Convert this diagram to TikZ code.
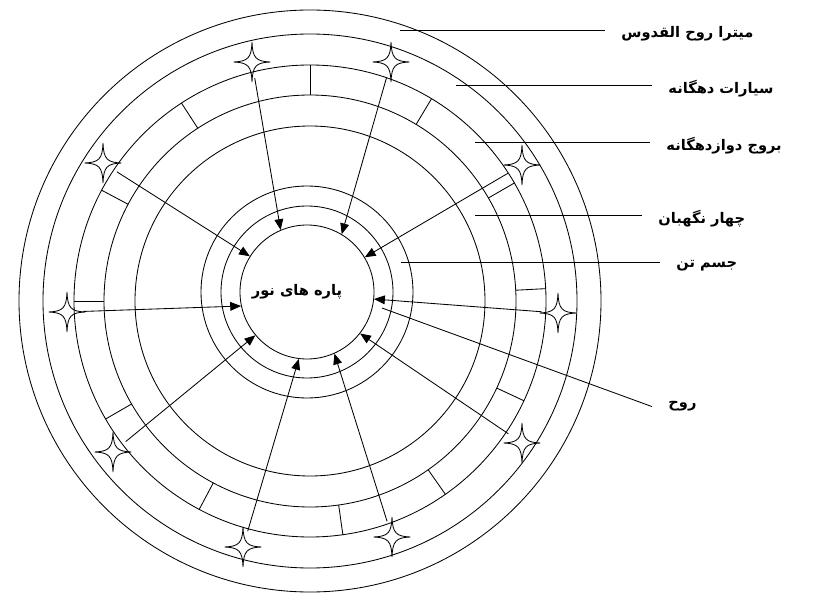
\documentclass[tikz,border=0pt]{standalone}
\usepackage{fontspec}
\newfontfamily\arabicfont[Script=Arabic]{DejaVu Sans}
\TeXXeTstate=1
\usetikzlibrary{arrows.meta}

\tikzset{
	sparkle/.pic={
		\draw (0,0.5) .. controls (0.015,0.1) and (0.1,0.015) .. (0.46,0)
			.. controls (0.1,-0.015) and (0.015,-0.1) .. (0,-0.5)
			.. controls (-0.015,-0.1) and (-0.1,-0.015) .. (-0.46,0)
			.. controls (-0.1,0.015) and (-0.015,0.1) .. cycle;
	}
}

\begin{document}
\begin{tikzpicture}[every node/.style={font=\arabicfont\bfseries\fontsize{10.4}{12}\selectfont},
	>={Triangle[length=2.7mm,width=2.2mm]}, line width=0.6pt,
	planet/.style={circle, minimum size=0.8cm, inner sep=0pt},
	ringname/.style={anchor=west, inner xsep=0.4cm, inner ysep=0pt, yshift=-0.09cm}]
	\useasboundingbox (0,0) rectangle (20.35,14.975);
	% outer rings
	\coordinate (o) at (7.75,7.45);
	\draw (o) circle (4.375) (o) circle (5.15) (o) circle (5.9) (o) circle (6.675) (o) circle (7.275);
	% inner rings
	\node[draw, circle, minimum size=3.35cm, inner sep=0pt,
		label={[xshift=-0.25cm]center:{\beginR پاره های نور\endR}}] (core) at (7.675,7.675) {};
	\draw (core.center) circle (2.15) (core.center) circle (2.65);
	% twelve signs
	\foreach \a in {3,30,59,90,123,152,180,210,242,278,305,335}
		\draw (o) ++(\a:5.15) -- ++(\a:0.75);
	% ten planets
	\node[planet] (p1) at (6.3,13.425) {};
	\node[planet] (p2) at (9.775,13.425) {};
	\node[planet] (p3) at (2.575,10.9) {};
	\node[planet] (p4) at (13.05,10.85) {};
	\node[planet] (p5) at (1.675,7.175) {};
	\node[planet] (p6) at (13.95,7.15) {};
	\node[planet] (p7) at (2.825,3.675) {};
	\node[planet] (p8) at (13.05,3.9) {};
	\node[planet] (p9) at (6.075,1.3) {};
	\node[planet] (p10) at (9.8,1.55) {};
	\foreach \p in {p1,p2,p3,p4,p5,p6,p7,p8,p9,p10}
		\pic at (\p) {sparkle};
	\draw[->] (p1) -- (core.113);
	\draw[->] (p2) -- (core.59);
	\draw[->] (p3) -- (core.148);
	\draw[->] (p4) -- (core.31);
	\draw[->] (p5) -- (core.192);
	\draw[->] (p6) -- (core.354);
	\draw[->] (p7) -- (core.220);
	\draw[->] (p8) -- (core.322);
	\draw[->] (p9) -- (core.263);
	\draw[->] (p10) -- (core.294);
	% names of the rings
	\coordinate (m1s) at (10,14.225);
	\coordinate (m2s) at (11.4,12.85);
	\coordinate (m3s) at (11.875,11.425);
	\coordinate (m4s) at (11.875,9.6);
	\coordinate (m5s) at (10.025,8.425);
	\coordinate (m6s) at (9.55,7.275);
	\node[ringname] (m1) at (15.125,14.225) {\beginR میترا روح القدوس\endR};
	\node[ringname] (m2) at (16.3,12.85) {\beginR سیارات دهگانه\endR};
	\node[ringname] (m3) at (16.25,11.425) {\beginR بروج دوازدهگانه\endR};
	\node[ringname] (m4) at (16.05,9.6) {\beginR چهار نگهبان\endR};
	\node[ringname] (m5) at (16.5,8.425) {\beginR جسم تن\endR};
	\node[ringname] (m6) at (16.3,4.9) {\beginR روح\endR};
	\draw (m1s) -- (m1.west |- m1s);
	\draw (m2s) -- (m2.west |- m2s);
	\draw (m3s) -- (m3.west |- m3s);
	\draw (m4s) -- (m4.west |- m4s);
	\draw (m5s) -- (m5.west |- m5s);
	\draw (m6s) -- (m6.west);
\end{tikzpicture}
\end{document}
